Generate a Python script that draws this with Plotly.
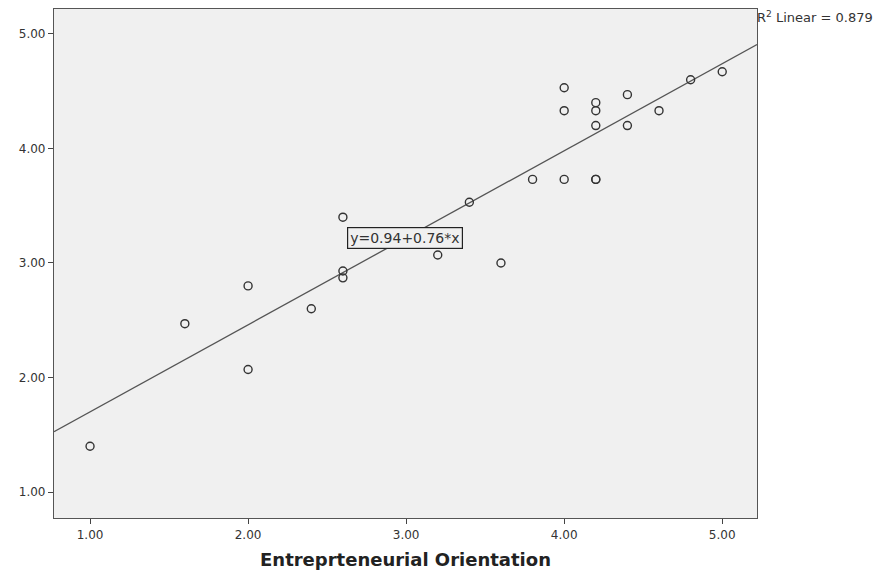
import plotly.graph_objects as go

# Data
eo = [1.0, 1.6, 2.0, 2.0, 2.4, 2.6, 2.6, 2.6, 3.2, 3.4, 3.6, 3.8,
      4.0, 4.0, 4.0, 4.2, 4.2, 4.2, 4.2, 4.2, 4.4, 4.4, 4.6, 4.8, 5.0]
perf = [1.40, 2.47, 2.80, 2.07, 2.60, 3.40, 2.93, 2.87, 3.07, 3.53, 3.00, 3.73,
        3.73, 4.33, 4.53, 3.73, 3.73, 4.20, 4.33, 4.40, 4.47, 4.20, 4.33, 4.60, 4.67]
intercept = 0.94
slope = 0.76
r2 = 0.879
x_range = [0.772, 5.22]
y_range = [0.773, 5.218]
tick_vals = [1, 2, 3, 4, 5]
tick_text = ["1.00", "2.00", "3.00", "4.00", "5.00"]
x_title = "Entreprteneurial Orientation"

FONT = "DejaVu Sans, Verdana, sans-serif"

fig = go.Figure()

fit_x = x_range
fit_y = [intercept + slope * v for v in fit_x]
fig.add_trace(go.Scatter(x=fit_x, y=fit_y, mode="lines",
                         line=dict(color="#555555", width=1.3),
                         hoverinfo="skip", showlegend=False))

fig.add_trace(go.Scatter(x=eo, y=perf, mode="markers",
                         marker=dict(symbol="circle-open", size=8,
                                     color="#333333", line=dict(width=1.4)),
                         showlegend=False))

fig.add_annotation(x=2.99, y=3.22, xref="x", yref="y",
                   text=f"y={intercept:.2f}+{slope:.2f}*x",
                   showarrow=False, bgcolor="#f0f0f0",
                   bordercolor="#222222", borderwidth=1.2, borderpad=2,
                   font=dict(family=FONT, size=14, color="#333333"))

fig.add_annotation(x=1.0, y=y_range[1] - 0.07, xref="paper", yref="y",
                   xanchor="left", yanchor="middle", xshift=-2,
                   text=f"R<sup>2</sup> Linear = {r2:.3f}",
                   showarrow=False,
                   font=dict(family=FONT, size=13, color="#333333"))

axis_common = dict(showgrid=False, zeroline=False, showline=True,
                   linecolor="#555555", linewidth=1.2, mirror=True,
                   ticks="outside", ticklen=5, tickcolor="#444444",
                   tickfont=dict(family=FONT, size=12, color="#333333"))

fig.update_xaxes(range=x_range, tickvals=tick_vals, ticktext=tick_text,
                 title=dict(text=f"<b>{x_title}</b>", standoff=12,
                            font=dict(family=FONT, size=18, color="#222222")),
                 **axis_common)
fig.update_yaxes(range=y_range, tickvals=tick_vals, ticktext=tick_text, **axis_common)

fig.update_layout(width=884, height=574,
                  margin=dict(l=46, r=135, t=1, b=64),
                  plot_bgcolor="#f0f0f0", paper_bgcolor="white")

fig.write_html("out.html")
